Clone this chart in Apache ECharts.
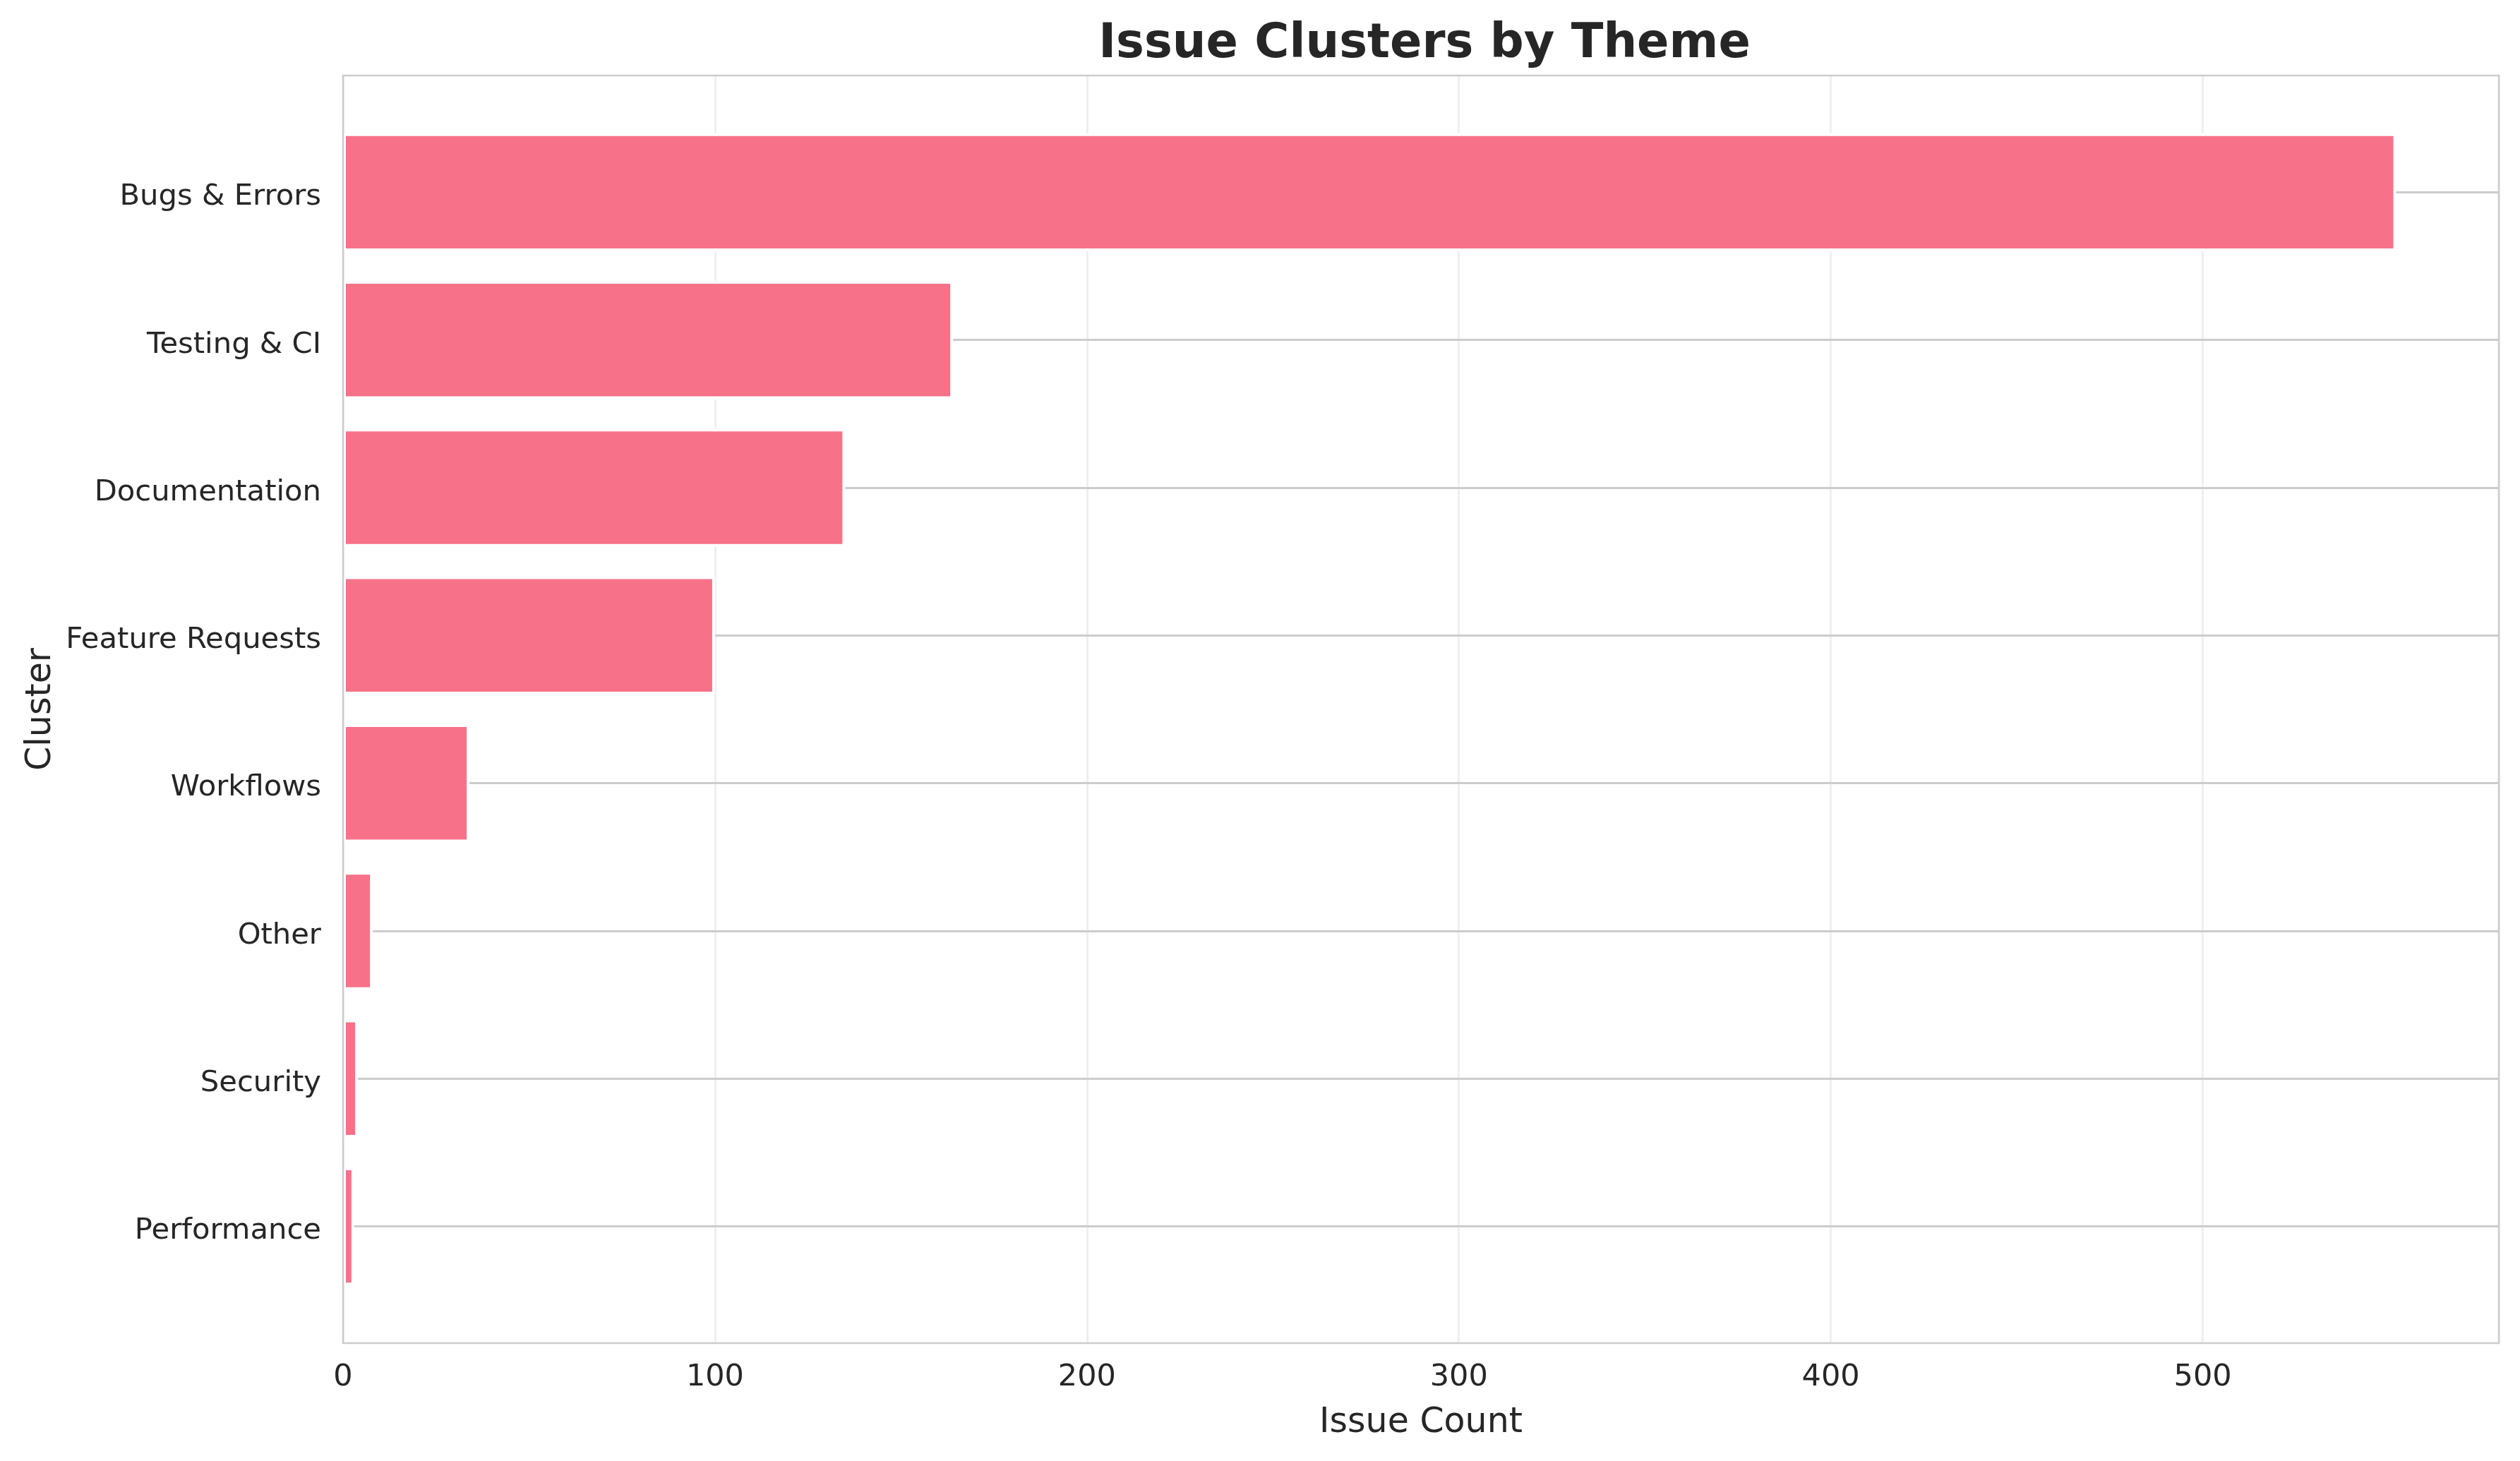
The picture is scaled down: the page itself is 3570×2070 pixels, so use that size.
<!DOCTYPE html>
<html>
<head>
<meta charset="utf-8">
<script src="https://cdn.jsdelivr.net/npm/echarts@6/dist/echarts.min.js"></script>
<style>
html,body{margin:0;padding:0;background:#ffffff;}
#chart{width:3570px;height:2070px;}
</style>
</head>
<body>
<div id="chart"></div>
<script>
// ---- data ----
const categories = ['Bugs & Errors', 'Testing & CI', 'Documentation', 'Feature Requests', 'Workflows', 'Other', 'Security', 'Performance'];
const issueCounts = [552, 164, 135, 100, 34, 8, 4, 3];
const xTickInterval = 100;
const xAxisMax = 579.6;
const titleText = 'Issue Clusters by Theme';
const xAxisName = 'Issue Count';
const yAxisName = 'Cluster';

const FONT = 'DejaVu Sans';
const TEXT = '#262626';

const chart = echarts.init(document.getElementById('chart'), null, {renderer: 'canvas'});
chart.setOption({
  animation: false,
  backgroundColor: '#ffffff',
  textStyle: {fontFamily: FONT},
  title: {
    text: titleText,
    left: 2013,
    top: 25,
    textAlign: 'center',
    textStyle: {fontFamily: FONT, fontSize: 67, fontWeight: 'bold', color: TEXT}
  },
  grid: [
    {left: 486, right: 30, top: 107, bottom: 167, show: true, z: 10,
     backgroundColor: 'transparent', borderColor: '#cccccc', borderWidth: 2.5},
    {left: 486, right: 30, top: 167.7, bottom: 227.7}
  ],
  xAxis: [
    {
      gridIndex: 0, type: 'value', min: 0, max: xAxisMax, interval: xTickInterval,
      axisLine: {show: false}, axisTick: {show: false},
      axisLabel: {fontFamily: FONT, fontSize: 43, color: TEXT, margin: 27, showMaxLabel: false},
      splitLine: {show: true, lineStyle: {color: '#efefef', width: 3}},
      name: xAxisName, nameLocation: 'middle', nameGap: 89,
      nameTextStyle: {fontFamily: FONT, fontSize: 49, color: TEXT}
    },
    {gridIndex: 1, type: 'value', min: 0, max: xAxisMax, show: false}
  ],
  yAxis: [
    {gridIndex: 0, type: 'value', min: 0, max: 1, show: false},
    {
      gridIndex: 1, type: 'category', data: categories, inverse: true,
      axisLine: {show: false}, axisTick: {show: false},
      axisLabel: {fontFamily: FONT, fontSize: 41.7, color: TEXT, margin: 31,
                  verticalAlign: 'top', lineHeight: 14},
      splitLine: {show: false},
      name: yAxisName, nameLocation: 'middle', nameGap: 392, nameRotate: 90,
      nameTextStyle: {fontFamily: FONT, fontSize: 49, color: TEXT}
    }
  ],
  series: [{
    type: 'bar',
    xAxisIndex: 1, yAxisIndex: 1,
    data: issueCounts,
    barWidth: '80%',
    z: 2,
    itemStyle: {color: '#f77189', borderColor: '#ffffff', borderWidth: 4},
    markLine: {
      silent: true, z: 1, symbol: 'none', animation: false,
      label: {show: false},
      lineStyle: {color: '#cccccc', width: 3, type: 'solid'},
      data: categories.map(c => ({yAxis: c}))
    }
  }]
});
</script>
</body>
</html>
